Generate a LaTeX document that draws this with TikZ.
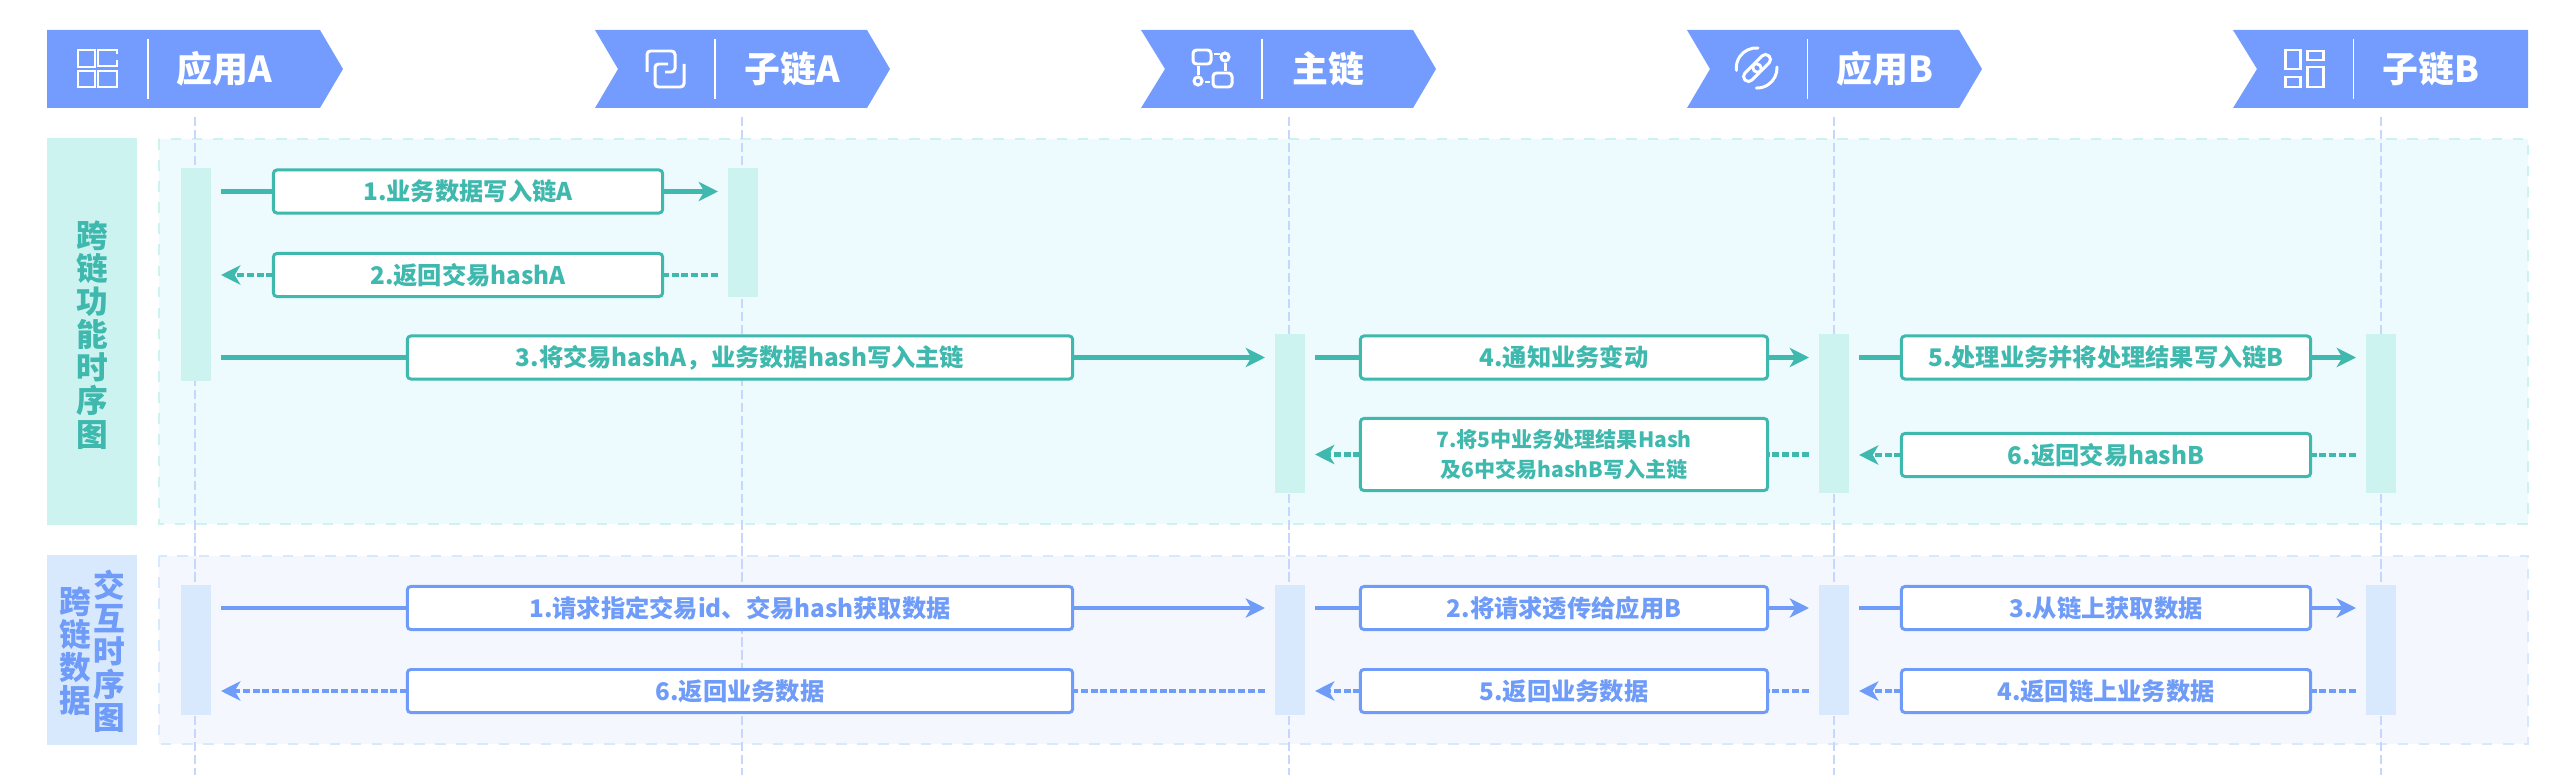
\documentclass[tikz,border=0pt]{standalone}
\usepackage{fontspec}
\setmainfont{Noto Sans CJK SC}
\usepackage{xcolor}
\usetikzlibrary{arrows.meta, calc}
\definecolor{headblue}{HTML}{739CFE}
\definecolor{tealc}{HTML}{3FB8AE}
\definecolor{bluec}{HTML}{6F9BF9}
\definecolor{tealbar}{HTML}{CDF3F1}
\definecolor{bluebar}{HTML}{D9E9FD}
\definecolor{tealbg}{HTML}{EDFBFF}
\definecolor{bluebg}{HTML}{F4F8FE}
\tikzset{
    msgbox/.style={draw, fill=white, line width=0.85pt, rounded corners=1pt, inner sep=0pt, outer sep=0pt, minimum height=0.43cm, font=\bfseries\fontsize{6.9}{9}\selectfont},
    actbar/.style={inner sep=0pt, outer sep=0pt, minimum width=0.3cm},
    headtext/.style={text=white, inner sep=0pt, font=\bfseries\fontsize{10.2}{12}\selectfont},
    sidetext/.style={align=center, inner sep=0pt, font=\bfseries\fontsize{9}{9.4}\selectfont},
    lifeline/.style={draw=bluec!40, line width=0.6pt, dash pattern=on 2.6pt off 1.1pt},
    iconline/.style={draw=white, line width=0.85pt},
    flowline/.style={line width=1.3pt},
    flowtip/.style={-{Stealth[length=5.5pt, width=5.5pt, inset=1.6pt]}},
    backline/.style={line width=1.3pt, dash pattern=on 2pt off 0.8pt}
}
\begin{document}
\begin{tikzpicture}[x = 0.01cm, y = -0.01cm]
    \useasboundingbox (0,0) rectangle (2576,776);

    % Fasce laterali
    \node[fill=tealbar, inner sep=0pt, minimum width=0.9cm, minimum height=3.87cm] (tside) at (92,331.5) {};
    \node[fill=bluebar, inner sep=0pt, minimum width=0.9cm, minimum height=1.9cm] (bside) at (92,650) {};
    \node[sidetext, text=tealc] (tsidetext) at (92,335) {跨\\链\\功\\能\\时\\序\\图};
    \node[sidetext, text=bluec] (bsidetextb) at (75,651) {跨\\链\\数\\据};
    \node[sidetext, text=bluec] (bsidetexta) at (109,651) {交\\互\\时\\序\\图};

    % Pannelli tratteggiati
    \fill[tealbg] (159,139) rectangle (2528,524);
    \draw[tealbar, line width=0.6pt, dashed] (159,139) rectangle (2528,524);
    \fill[bluebg] (159,556) rectangle (2528,744);
    \draw[bluebar, line width=0.6pt, dashed] (159,556) rectangle (2528,744);

    % Linee di vita
    \foreach \x in {195,742,1289,1834,2381} {
        \draw[lifeline] (\x,117) -- (\x,775);
    }

    % Barre di attivazione
    \node[actbar, fill=tealbar, minimum height=2.13cm] (ta) at (196,274.5) {};
    \node[actbar, fill=tealbar, minimum height=1.29cm] (tb) at (743,232.5) {};
    \foreach \name/\x in {tc/1290,td/1834,te/2381} {
        \node[actbar, fill=tealbar, minimum height=1.59cm] (\name) at (\x,413.5) {};
    }
    \foreach \name/\x in {ba/196,bc/1290,bd/1834,be/2381} {
        \node[actbar, fill=bluebar, minimum height=1.3cm] (\name) at (\x,650) {};
    }

    % Messaggi sopra
    \node[msgbox, draw=tealc, text=tealc, minimum width=3.89cm] (tm1) at (468,191.5) {1.业务数据写入链A};
    \node[msgbox, draw=tealc, text=tealc, minimum width=3.89cm] (tm2) at (468,275) {2.返回交易hashA};
    \node[msgbox, draw=tealc, text=tealc, minimum width=6.65cm] (tm3) at (740,357.5) {3.将交易hashA，业务数据hash写入主链};
    \node[msgbox, draw=tealc, text=tealc, minimum width=4.07cm] (tm4) at (1564,357.5) {4.通知业务变动};
    \node[msgbox, draw=tealc, text=tealc, minimum width=4.09cm] (tm5) at (2106,357.5) {5.处理业务并将处理结果写入链B};
    \node[msgbox, draw=tealc, text=tealc, minimum width=4.09cm] (tm6) at (2106,455) {6.返回交易hashB};
    \node[msgbox, draw=tealc, text=tealc, minimum width=4.07cm, minimum height=0.72cm, align=center, font=\bfseries\fontsize{6}{8.5}\selectfont] (tm7) at (1564,454.5) {7.将5中业务处理结果Hash\\及6中交易hashB写入主链};

    % Messaggi sotto
    \node[msgbox, draw=bluec, text=bluec, minimum width=6.65cm] (bm1) at (740,608) {1.请求指定交易id、交易hash获取数据};
    \node[msgbox, draw=bluec, text=bluec, minimum width=4.07cm] (bm2) at (1564,608) {2.将请求透传给应用B};
    \node[msgbox, draw=bluec, text=bluec, minimum width=4.09cm] (bm3) at (2106,608) {3.从链上获取数据};
    \node[msgbox, draw=bluec, text=bluec, minimum width=4.09cm] (bm4) at (2106,691) {4.返回链上业务数据};
    \node[msgbox, draw=bluec, text=bluec, minimum width=4.07cm] (bm5) at (1564,691) {5.返回业务数据};
    \node[msgbox, draw=bluec, text=bluec, minimum width=6.65cm] (bm6) at (740,691) {6.返回业务数据};

    % Frecce verso destra
    \foreach \col/\msg/\from/\to in {tealc/tm1/ta/tb, tealc/tm3/ta/tc, tealc/tm4/tc/td, tealc/tm5/td/te,
                                     bluec/bm1/ba/bc, bluec/bm2/bc/bd, bluec/bm3/bd/be} {
        \draw[flowline, \col, shorten <=1mm] (\from.east |- \msg.west) -- (\msg.west);
        \draw[flowline, flowtip, \col, shorten >=1mm] (\msg.east) -- (\to.west |- \msg.east);
    }

    % Frecce di ritorno
    \foreach \col/\msg/\from/\to in {tealc/tm2/tb/ta, tealc/tm6/te/td, tealc/tm7/td/tc,
                                     bluec/bm4/be/bd, bluec/bm5/bd/bc, bluec/bm6/bc/ba} {
        \draw[backline, \col, shorten <=1mm] (\from.west |- \msg.east) -- (\msg.east);
        \draw[backline, flowtip, \col, shorten >=1mm] (\msg.west) -- (\to.east |- \msg.west);
    }

    % Testate
    \fill[headblue] (47,30) -- (320,30) -- (343,69) -- (320,108) -- (47,108) -- cycle;
    \fill[headblue] (595,30) -- (867,30) -- (890,69) -- (867,108) -- (595,108) -- (618,69) -- cycle;
    \fill[headblue] (1141,30) -- (1413,30) -- (1436,69) -- (1413,108) -- (1141,108) -- (1165,69) -- cycle;
    \fill[headblue] (1687,30) -- (1959,30) -- (1982,69) -- (1959,108) -- (1687,108) -- (1710,69) -- cycle;
    \fill[headblue] (2233,30) -- (2528,30) -- (2528,108) -- (2233,108) -- (2257,69) -- cycle;

    \foreach \x in {148,715,1262,1807,2353} {
        \draw[white, line width=0.3pt] (\x,39) -- (\x,99);
    }

    \node[headtext] (happa) at (224,69) {应用A};
    \node[headtext] (hsuba) at (792,69) {子链A};
    \node[headtext] (hmain) at (1328,69) {主链};
    \node[headtext] (happb) at (1885,69) {应用B};
    \node[headtext] (hsubb) at (2431,69) {子链B};

    % Icona griglia
    \draw[iconline] (78,50) rectangle (95,67);
    \draw[iconline] (78,71) rectangle (95,87);
    \draw[iconline] (98,71) rectangle (117,87);
    \draw[iconline] (117,54) -- (117,50) -- (98,50) -- (98,66) -- (117,66) -- (117,60);

    % Icona rettangoli sovrapposti
    \draw[iconline, rounded corners=1pt] (647,72) -- (647,51) -- (675,51) -- (675,72) -- (665,72);
    \draw[iconline, rounded corners=1pt] (668,64) -- (655,64) -- (655,87) -- (684,87) -- (684,64);

    % Icona nodi
    \draw[iconline, rounded corners=1pt] (1193,50) rectangle (1211,64);
    \draw[iconline, rounded corners=1pt] (1213,73) rectangle (1232,87);
    \draw[iconline] (1225,57) circle (4);
    \draw[iconline] (1198,81) circle (4);
    \draw[iconline] (1214,54) -- (1220,54);
    \draw[iconline] (1225,63) -- (1225,71);
    \draw[iconline] (1198,66) -- (1198,75);
    \draw[iconline] (1205,82) -- (1210,82);

    % Icona catena
    \draw[iconline, line cap=round] (1758,48) arc (-85:-187:20);
    \draw[iconline, line cap=round] (1777,67) arc (-3:92:20);
    \begin{scope}[shift={(1757,68)}, rotate=45]
        \draw[iconline, rounded corners=1.4pt] (-17,-5) rectangle (4,5);
        \draw[iconline, rounded corners=1.4pt] (-4,-5) rectangle (17,5);
    \end{scope}

    % Icona griglia B
    \draw[iconline] (2285,50) rectangle (2300,69);
    \draw[iconline] (2307,51) rectangle (2323,60);
    \draw[iconline] (2285,77) rectangle (2300,87);
    \draw[iconline] (2307,67) rectangle (2323,87);

\end{tikzpicture}
\end{document}
